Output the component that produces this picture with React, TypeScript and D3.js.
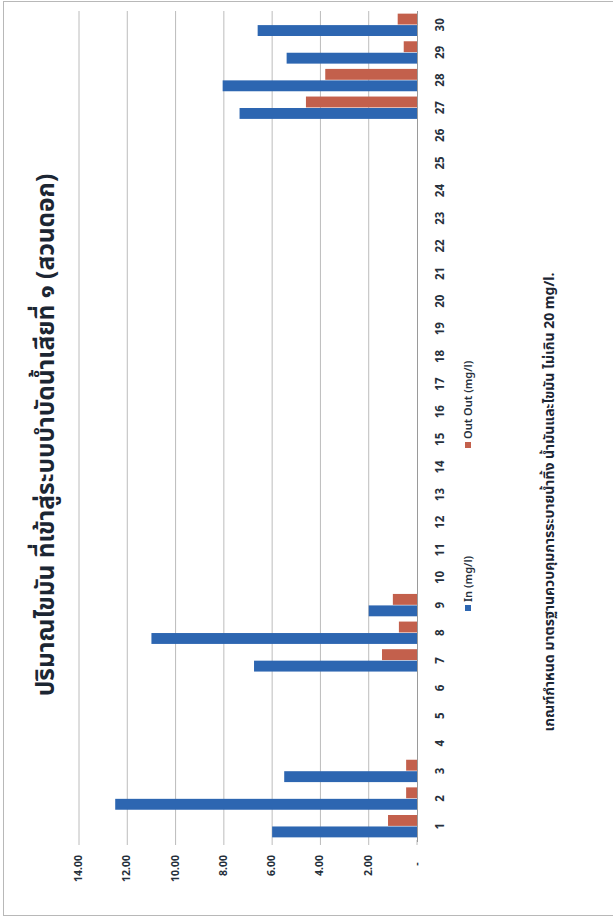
import React from "react";
import * as d3 from "d3";

const categories: string[] = Array.from({ length: 30 }, (_, i) => String(i + 1));
const inValues: number[] = [6.0, 12.5, 5.5, 0, 0, 0, 6.75, 11.0, 2.0, 0, 0, 0, 0, 0, 0, 0, 0, 0, 0, 0, 0, 0, 0, 0, 0, 0, 7.35, 8.05, 5.4, 6.6];
const outValues: number[] = [1.2, 0.45, 0.45, 0, 0, 0, 1.45, 0.75, 1.0, 0, 0, 0, 0, 0, 0, 0, 0, 0, 0, 0, 0, 0, 0, 0, 0, 0, 4.6, 3.8, 0.55, 0.8];
const valueTicks: number[] = [0, 2, 4, 6, 8, 10, 12, 14];
const seriesNames: string[] = ["In (mg/l)", "Out Out (mg/l)"];
const title = "ปริมาณไขมัน ที่เข้าสู่ระบบบำบัดน้ำเสียที่ ๑ (สวนดอก)";
const footnote = "เกณฑ์กำหนด มาตรฐานควบคุมการระบายน้ำทิ้ง  น้ำมันและไขมัน ไม่เกิน  20 mg/l.";

const BLUE = "#2d66b1";
const RED = "#c3604c";
const TEXT = "#26303c";
const FONT = "Tahoma, 'Noto Sans Thai', 'DejaVu Sans', 'Liberation Sans', sans-serif";

export default function App() {
  const W = 613, H = 917;
  // value axis runs right (0) to left (14)
  const x = d3.scaleLinear().domain([0, 14]).range([417, 79]);
  // categories run bottom (1) to top (30)
  const y = d3.scaleBand<string>().domain(categories).range([840, 11]).padding(0);
  const inner = d3.scaleBand<string>().domain(["out", "in"]).range([0, y.bandwidth()]).paddingOuter(0.23).paddingInner(0.05);

  const fmt = (v: number) => (v === 0 ? "-" : d3.format(".2f")(v));

  return (
    <svg width={W} height={H} style={{ position: "absolute", left: 0, top: 0, background: "#fff" }}>
      <rect x={3.5} y={1.5} width={W} height={914} fill="none" stroke="#b8b8b8" strokeWidth={1} />
      {/* gridlines */}
      {valueTicks.filter((t) => t > 0).map((t) => (
        <line key={t} x1={x(t)} x2={x(t)} y1={11} y2={840} stroke="#b4b4b4" strokeWidth={0.9} />
      ))}
      {/* value axis tick marks */}
      {valueTicks.map((t) => (
        <line key={"tk" + t} x1={x(t)} x2={x(t)} y1={840} y2={845} stroke="#b4b4b4" strokeWidth={0.9} />
      ))}
      {/* bars */}
      {categories.map((c, i) => (
        <g key={c}>
          {outValues[i] > 0 && (
            <rect x={x(outValues[i])} y={(y(c) as number) + (inner("out") as number)} width={x(0) - x(outValues[i])} height={inner.bandwidth()} fill={RED} />
          )}
          {inValues[i] > 0 && (
            <rect x={x(inValues[i])} y={(y(c) as number) + (inner("in") as number)} width={x(0) - x(inValues[i])} height={inner.bandwidth()} fill={BLUE} />
          )}
        </g>
      ))}
      {/* category axis line */}
      <line x1={417.5} x2={417.5} y1={11} y2={842} stroke="#9a9a9a" strokeWidth={1} />
      {/* category labels */}
      {categories.map((c) => {
        const cy = (y(c) as number) + y.bandwidth() / 2;
        return (
          <text key={"l" + c} transform={`translate(440,${cy}) rotate(-90)`} textAnchor="middle" dominantBaseline="central"
            fontFamily={FONT} fontWeight="bold" fontSize={11.5} fill={TEXT}>{c}</text>
        );
      })}
      {/* value labels */}
      {valueTicks.map((t) => (
        <text key={"v" + t} transform={`translate(${x(t)},${t === 0 ? 864 : 855}) rotate(-90)`} textAnchor={t === 0 ? "middle" : "end"} dominantBaseline="central"
          fontFamily={FONT} fontWeight="bold" fontSize={10.5} fill={TEXT}>{fmt(t)}</text>
      ))}
      {/* title */}
      <text transform={`translate(46,435) rotate(-90)`} textAnchor="middle" dominantBaseline="central"
        fontFamily={FONT} fontWeight="bold" fontSize={24.5} fill="#1c2633">{title}</text>
      {/* legend */}
      <rect x={465} y={605} width={6} height={6} fill={BLUE} />
      <text transform={`translate(468,602) rotate(-90)`} textAnchor="start" dominantBaseline="central"
        fontFamily={FONT} fontWeight="600" fontSize={11} fill={TEXT}>{seriesNames[0]}</text>
      <rect x={465} y={442} width={6} height={6} fill={RED} />
      <text transform={`translate(468,439) rotate(-90)`} textAnchor="start" dominantBaseline="central"
        fontFamily={FONT} fontWeight="600" fontSize={11} fill={TEXT}>{seriesNames[1]}</text>
      {/* footnote */}
      <text transform={`translate(549,502) rotate(-90)`} textAnchor="middle" dominantBaseline="central"
        fontFamily={FONT} fontWeight="bold" fontSize={14} fill="#1c2633">{footnote}</text>
    </svg>
  );
}
